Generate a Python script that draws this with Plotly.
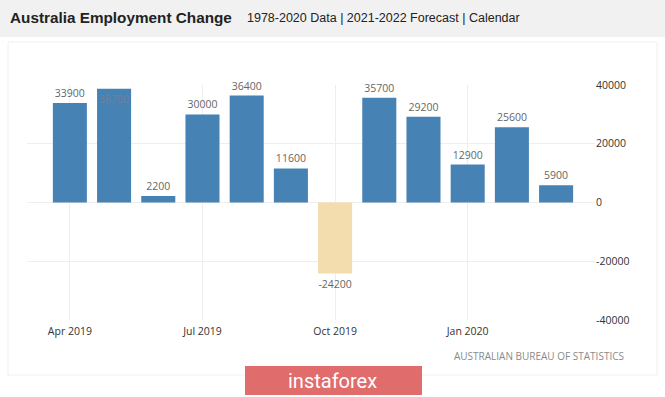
import plotly.graph_objects as go

months = ["Apr 2019", "May 2019", "Jun 2019", "Jul 2019", "Aug 2019", "Sep 2019",
          "Oct 2019", "Nov 2019", "Dec 2019", "Jan 2020", "Feb 2020", "Mar 2020"]
employment_change = [33900, 38700, 2200, 30000, 36400, 11600,
                     -24200, 35700, 29200, 12900, 25600, 5900]
x_tick_labels = ["Apr 2019", "Jul 2019", "Oct 2019", "Jan 2020"]
y_tick_values = [-40000, -20000, 0, 20000, 40000]

W, H = 665, 397
L, R, T, B = 27, 70, 85, 77
PW, PH = W - L - R, H - T - B


def px(x):
    return (x - L) / PW


def py(y):
    return (H - B - y) / PH


colors = ["#f3dcae" if v < 0 else "#4682b4" for v in employment_change]
positions = ["inside" if v == max(employment_change) else "outside" for v in employment_change]

fig = go.Figure()
fig.add_trace(go.Bar(
    x=months, y=employment_change,
    marker=dict(color=colors, line=dict(width=0)),
    text=[str(v) for v in employment_change],
    textposition=positions,
    insidetextanchor="end",
    textangle=0,
    textfont=dict(family="Open Sans", size=10.5, color="#666666"),
    insidetextfont=dict(family="Open Sans", size=10.5, color="#6f8397"),
    outsidetextfont=dict(family="Open Sans", size=10.5, color="#666666"),
    constraintext="none",
    cliponaxis=False,
    hoverinfo="x+y",
))

shapes = [
    # header band
    dict(type="rect", xref="paper", yref="paper", x0=px(0), x1=px(W), y0=py(37), y1=py(0),
         fillcolor="#f1f1f1", line=dict(width=0), layer="below"),
    # panel border
    dict(type="rect", xref="paper", yref="paper", x0=px(8), x1=px(657), y0=py(375), y1=py(42),
         fillcolor="rgba(0,0,0,0)", line=dict(width=1, color="#f0f0f0"), layer="below"),
    # instaforex box
    dict(type="rect", xref="paper", yref="paper", x0=px(245), x1=px(422), y0=py(395), y1=py(366),
         fillcolor="#e06c6c", line=dict(width=0), layer="above"),
]

annotations = [
    dict(xref="paper", yref="paper", x=px(8), y=py(18), xanchor="left", yanchor="middle",
         text="<b>Australia Employment Change</b>", showarrow=False,
         font=dict(family="Liberation Sans", size=15.3, color="#222222")),
    dict(xref="paper", yref="paper", x=px(245), y=py(18), xanchor="left", yanchor="middle",
         text="1978-2020 Data | 2021-2022 Forecast | Calendar", showarrow=False,
         font=dict(family="Liberation Sans", size=12.5, color="#222222")),
    dict(xref="paper", yref="paper", x=px(626), y=py(356), xanchor="right", yanchor="middle",
         text="AUSTRALIAN BUREAU OF STATISTICS", showarrow=False,
         font=dict(family="Open Sans", size=10, color="#8a8a8a")),
    dict(xref="paper", yref="paper", x=px(333), y=py(381), xanchor="center", yanchor="middle",
         text="instaforex", showarrow=False,
         font=dict(family="Roboto", size=20, color="#ffffff")),
]

fig.update_layout(
    width=W, height=H,
    margin=dict(l=L, r=R, t=T, b=B),
    paper_bgcolor="#ffffff", plot_bgcolor="#ffffff",
    showlegend=False,
    bargap=0.23,
    shapes=shapes,
    annotations=annotations,
    xaxis=dict(
        type="category",
        range=[-0.97, 11.88],
        tickmode="array", tickvals=x_tick_labels, ticktext=x_tick_labels,
        showgrid=True, gridcolor="#eeeeee", gridwidth=1,
        ticks="", showline=False, zeroline=False,
        ticklabelstandoff=3,
        tickfont=dict(family="Open Sans", size=10.5, color="#333333"),
    ),
    yaxis=dict(
        side="right",
        range=[-40000, 40000],
        tickmode="array", tickvals=y_tick_values,
        ticktext=[str(v) for v in y_tick_values],
        showgrid=True, gridcolor="#eeeeee", gridwidth=1,
        zeroline=False, showline=False, ticks="",
        tickfont=dict(family="Open Sans", size=10.5, color="#333333"),
    ),
)

fig.write_html(
    "out.html",
    config={"displayModeBar": False},
    post_script="document.body.style.margin='0';document.body.style.padding='0';document.body.style.overflow='hidden';",
)
